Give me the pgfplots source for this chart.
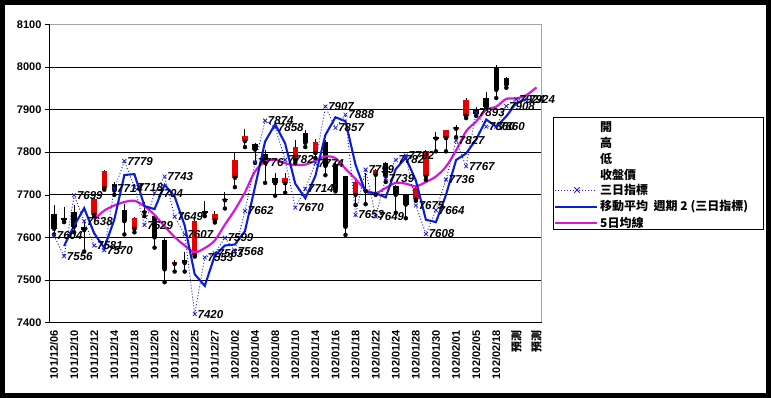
\documentclass[border=0pt]{standalone}
\usepackage{pgfplots}
\pgfplotsset{compat=1.18}
\usepackage{pgfplotstable}
\usepackage{fontspec}
\setmainfont{Liberation Sans}
\newfontfamily\cjk{Noto Sans CJK TC}
\definecolor{redc}{RGB}{230,0,0}
\definecolor{dotblue}{RGB}{30,30,200}
\definecolor{mablue}{RGB}{10,30,215}
\definecolor{mag}{RGB}{215,25,215}

% red candles: close > open
\pgfplotstableread{
i o h l c
4 7653 7692 7650 7690
5 7716 7758 7712 7755
8 7620 7648 7612 7645
12 7538 7548 7520 7543
14 7558 7640 7555 7638
16 7640 7662 7635 7655
18 7740 7798 7718 7782
19 7826 7855 7812 7838
23 7727 7752 7705 7740
24 7782 7829 7775 7813
26 7798 7832 7786 7825
30 7700 7734 7676 7731
32 7747 7760 7700 7758
36 7689 7720 7686 7717
37 7743 7806 7735 7802
39 7833 7853 7802 7851
40 7855 7864 7835 7859
41 7885 7928 7880 7923
}\redcandles

% black candles: close < open
\pgfplotstableread{
i o h l c
0 7655 7675 7607 7620
1 7645 7672 7636 7641
2 7660 7677 7612 7625
3 7625 7640 7567 7617
6 7726 7730 7700 7710
7 7665 7678 7607 7638
9 7662 7682 7650 7659
10 7650 7655 7576 7600
11 7595 7600 7495 7525
13 7546 7565 7520 7540
15 7662 7685 7650 7658
17 7690 7706 7668 7687
20 7820 7822 7775 7806
21 7795 7806 7728 7775
22 7740 7752 7698 7727
25 7845 7852 7812 7822
27 7825 7828 7746 7768
28 7773 7780 7708 7712
29 7743 7745 7606 7625
31 7712 7750 7678 7709
33 7775 7778 7730 7743
34 7721 7722 7658 7700
35 7700 7703 7645 7677
38 7835 7848 7802 7832
42 7900 7905 7885 7890
43 7927 7942 7905 7906
44 8000 8005 7927 7946
45 7974 7976 7951 7958
}\blackcandles

% three-day indicator
\pgfplotstableread{
i v
0 7604
1 7556
2 7699
3 7638
4 7581
5 7570
6 7714
7 7779
8 7718
9 7629
10 7704
11 7743
12 7649
13 7607
14 7420
15 7553
16 7563
17 7599
18 7568
19 7662
20 7776
21 7874
22 7858
23 7782
24 7670
25 7714
26 7774
27 7907
28 7857
29 7888
30 7653
31 7759
32 7649
33 7739
34 7782
35 7792
36 7675
37 7608
38 7664
39 7736
40 7827
41 7767
42 7893
43 7860
44 7860
45 7908
46 7924
47 7924
}\threeday

% moving average, period 2
\pgfplotstableread{
i v
1 7580
2 7627.5
3 7668.5
4 7609.5
5 7575.5
6 7642
7 7746.5
8 7748.5
9 7673.5
10 7666.5
11 7723.5
12 7696
13 7628
14 7513.5
15 7486.5
16 7558
17 7581
18 7583.5
19 7615
20 7719
21 7825
22 7866
23 7820
24 7726
25 7692
26 7744
27 7840.5
28 7882
29 7872.5
30 7770.5
31 7706
32 7704
33 7694
34 7760.5
35 7787
36 7733.5
37 7641.5
38 7636
39 7700
40 7781.5
41 7797
42 7830
43 7876.5
44 7860
45 7884
46 7916
47 7924
}\maline

% 5-day average
\pgfplotstableread{
i v
4 7642
5 7663
6 7675
7 7683
8 7686
9 7673
10 7653
11 7626
12 7601
13 7581
14 7565
15 7575
16 7593
17 7630
18 7665
19 7706
20 7755
21 7778
22 7782
23 7774
24 7770
25 7771
26 7780
27 7790
28 7786
29 7761
30 7737
31 7712
32 7704
33 7716
34 7728
35 7726
36 7720
37 7730
38 7743
39 7766
40 7804
41 7849
42 7872
43 7899
44 7907
45 7925
46 7926
47 7934
48 7952
}\fiveday

\begin{document}
\begin{tikzpicture}[x=1pt,y=1pt]
\useasboundingbox (0,0) rectangle (771,398);
\fill[black] (0,0) rectangle (771,398);
\fill[white] (5,5) rectangle (766,393);
\begin{axis}[
  at={(49pt,75.3pt)}, anchor=south west,
  scale only axis, width=492.5pt, height=298.4pt,
  xmin=-0.5, xmax=48.5, ymin=7400, ymax=8100,
  clip=false,
  axis line style={gray!70},
  ytick={7400,7500,...,8000},
  extra y ticks={8100}, extra y tick style={grid=none},
  ymajorgrids, grid style={black, line width=0.7pt},
  xtick={0,2,...,48},
  xticklabels={101/12/06,101/12/10,101/12/12,101/12/14,101/12/18,101/12/20,101/12/22,101/12/25,101/12/27,102/01/02,102/01/04,102/01/08,102/01/10,102/01/14,102/01/16,102/01/18,102/01/22,102/01/24,102/01/28,102/01/30,102/02/01,102/02/05,102/02/18,{\cjk 預測},{\cjk 預測}},
  minor xtick={-0.5,0.5,...,48.5},
  tick pos=left, tick align=outside,
  major tick length=4pt, minor tick length=4pt,
  xtick style={draw=none},
  minor x tick style={black, line width=0.6pt},
  ytick style={black, line width=0.6pt},
  /pgf/number format/assume math mode=true,
  /pgf/number format/1000 sep={},
  xticklabel style={rotate=90, anchor=east, font=\bfseries\fontsize{11}{11}\selectfont},
  yticklabel style={font=\bfseries\fontsize{11}{11}\selectfont},
]
% wicks
\addplot[only marks, mark=none, forget plot, error bars/.cd, y dir=plus, y explicit, error mark=none, error bar style={black, line width=1pt}]
  table[x=i, y=l, y error plus expr=\thisrow{h}-\thisrow{l}] {\redcandles};
\addplot[only marks, mark=none, forget plot, error bars/.cd, y dir=plus, y explicit, error mark=none, error bar style={black, line width=1pt}]
  table[x=i, y=l, y error plus expr=\thisrow{h}-\thisrow{l}] {\blackcandles};
% bodies
\addplot[only marks, mark=none, forget plot, error bars/.cd, y dir=plus, y explicit, error mark=none, error bar style={redc, line width=5.5pt}]
  table[x=i, y=o, y error plus expr=\thisrow{c}-\thisrow{o}] {\redcandles};
\addplot[only marks, mark=none, forget plot, error bars/.cd, y dir=plus, y explicit, error mark=none, error bar style={black, line width=5.5pt}]
  table[x=i, y=c, y error plus expr=\thisrow{o}-\thisrow{c}] {\blackcandles};
% five-day average
\addplot[mag, line width=2.2pt, smooth, tension=0.5] table[x=i, y=v] {\fiveday};
% moving average
\addplot[mablue, line width=2.1pt] table[x=i, y=v] {\maline};
% three-day indicator
\addplot[dotblue, dash pattern=on 1pt off 2pt, line width=0.9pt, mark=x, mark size=2.7pt, mark options={solid, line width=0.8pt},
  point meta=y,
  nodes near coords={\pgfmathprintnumber[fixed,precision=0,1000 sep={}]{\pgfplotspointmeta}},
  every node near coord/.append style={anchor=west, xshift=1.5pt, inner sep=1pt, text=black, font=\bfseries\itshape\fontsize{11.5}{11.5}\selectfont}]
  table[x=i, y=v] {\threeday};
\draw[black, line width=0.8pt] (rel axis cs:0,1) -- (rel axis cs:0,0) -- (rel axis cs:1,0);
\end{axis}
% legend
\draw[black, line width=0.7pt] (553,169) rectangle (763,281);
\begin{scope}[every node/.style={anchor=west, inner sep=0pt, font=\cjk\bfseries\fontsize{12}{12}\selectfont}]
\node at (600,271) {開};
\node at (600,255) {高};
\node at (600,239) {低};
\node at (600,223) {收盤價};
\node at (600,208) {三日指標};
\node at (600,191) {移動平均\ \ 週期 2 (三日指標)};
\node at (600,175.3) {5日均線};
\end{scope}
\draw[dotblue, dash pattern=on 1pt off 2pt, line width=0.9pt] (555,208) -- (597,208);
\draw[dotblue, line width=0.8pt] (574.3,205.3) -- (579.7,210.7) (574.3,210.7) -- (579.7,205.3);
\draw[mablue, line width=2.1pt] (555,191) -- (597,191);
\draw[mag, line width=2.2pt] (555,175.3) -- (597,175.3);
\end{tikzpicture}
\end{document}
